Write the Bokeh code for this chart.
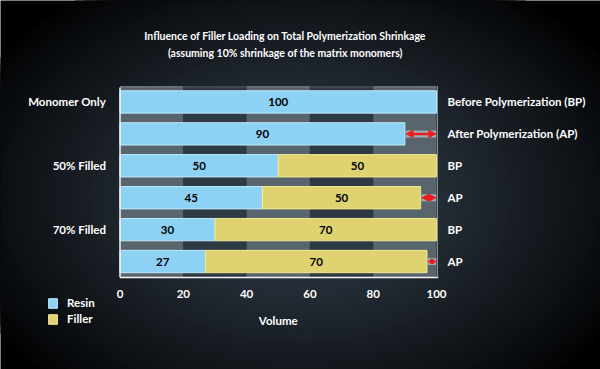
import numpy as np
from bokeh.plotting import figure
from bokeh.models import Range1d, ColumnDataSource, Legend, LegendItem, Arrow, NormalHead
from bokeh.core.properties import value
from bokeh.embed import file_html
from bokeh.resources import INLINE

# ---------------- data ----------------
row_names = ["Monomer BP", "Monomer AP", "50% BP", "50% AP", "70% BP", "70% AP"]
resin = [100, 90, 50, 45, 30, 27]
filler = [0, 0, 50, 50, 70, 70]
left_labels = ["Monomer Only", "", "50% Filled", "", "70% Filled", ""]
right_labels = ["Before Polymerization (BP)", "After Polymerization (AP)", "BP", "AP", "BP", "AP"]
x_ticks = [0, 20, 40, 60, 80, 100]
title_lines = ["Influence of Filler Loading on Total Polymerization Shrinkage",
               "(assuming 10% shrinkage of the matrix monomers)"]
x_label = "Volume"

# ---------------- layout ----------------
W, H = 600, 369
PX0, PX100 = 119.5, 436.0        # pixel of x=0 and x=100
PY_TOP, PY_BOT = 85.5, 277.0      # pixel of top and bottom of the plot area
n = len(resin)
sx = (PX100 - PX0) / 100.0
sy = (PY_BOT - PY_TOP) / n
x_start = -PX0 / sx
x_end = x_start + W / sx
y_end = n + PY_TOP / sy
y_start = -(H - PY_BOT) / sy

def to_data(px, py):
    return x_start + px / sx, y_end - py / sy

FONT_NAME = "Lato"
FONT = value(FONT_NAME)
FS = "11.5px"

p = figure(width=W, height=H, output_backend="svg", toolbar_location=None,
           x_range=Range1d(x_start, x_end), y_range=Range1d(y_start, y_end),
           x_axis_type=None, y_axis_type=None, min_border=0)
p.grid.visible = False
p.outline_line_color = None
p.background_fill_color = "#000000"
p.border_fill_color = "#000000"

# ---------------- radial background ----------------
cxd, cyd = to_data(300, 195)
N = 60
ts = np.linspace(1.0, 0.02, N)
c_center = np.array([0x37, 0x43, 0x51])
c_edge = np.array([0x02, 0x03, 0x04])
cols = []
for t in ts:
    f = (1 - t) ** 0.9
    c = (c_edge + (c_center - c_edge) * f).astype(int)
    cols.append("#%02x%02x%02x" % tuple(c))
p.ellipse(x=[cxd] * N, y=[cyd] * N, width=list(2 * 360 * ts), height=list(2 * 250 * ts),
          width_units="screen", height_units="screen", fill_color=cols, line_color=None)

# ---------------- column bands ----------------
band_l = x_ticks[:-1]
band_r = x_ticks[1:]
band_c = ["#58656c" if i % 2 == 0 else "#2d3943" for i in range(len(band_l))]
p.quad(left=band_l, right=band_r, bottom=0, top=n, fill_color=band_c, line_color=None)
p.quad(left=band_l, right=band_r, bottom=[n - 0.06] * len(band_l), top=n,
       fill_color="#ffffff", fill_alpha=0.08, line_color=None)

# ---------------- bars ----------------
ys = [n - 0.5 - i for i in range(n)]
src = ColumnDataSource(dict(y=ys, resin=resin, filler=filler,
                            rmid=[r / 2 for r in resin],
                            fmid=[r + f / 2 for r, f in zip(resin, filler)],
                            rlab=[str(v) for v in resin],
                            flab=[str(v) if v else "" for v in filler],
                            left=left_labels, right=right_labels))
r_resin = p.hbar(y="y", left=0, right="resin", height=0.7, source=src,
                 fill_color="#8dd2f5", line_color="#bfe9fb", line_width=1)
fsrc = ColumnDataSource(dict(y=[ys[i] for i in range(n) if filler[i] > 0],
                             l=[resin[i] for i in range(n) if filler[i] > 0],
                             r=[resin[i] + filler[i] for i in range(n) if filler[i] > 0]))
r_filler = p.hbar(y="y", left="l", right="r", height=0.7, source=fsrc,
                  fill_color="#dfd271", line_color="#f2e894", line_width=1)

# value labels
p.text(x="rmid", y="y", text="rlab", source=src, text_align="center", text_baseline="middle",
       text_font=FONT, text_font_style="bold", text_font_size=FS, text_color="#000000")
p.text(x="fmid", y="y", text="flab", source=src, text_align="center", text_baseline="middle",
       text_font=FONT, text_font_style="bold", text_font_size=FS, text_color="#000000")

# frame lines
p.segment(x0=[0, 0], y0=[0, 0], x1=[0, 100.6], y1=[n - 0.05, 0], line_color="#f2f4f5", line_width=1.5)
p.segment(x0=[100.3], y0=[0], x1=[100.3], y1=[n], line_color="#8a969c", line_width=1)

# shrinkage arrows
for i in range(n):
    tot = resin[i] + filler[i]
    if tot < 100:
        gap_px = (100 - tot) * sx
        hs = max(5.0, min(7.0, gap_px / 2.4))
        lw = 2.5 if gap_px > 12 else 2.0
        p.segment(x0=[tot + 0.3], y0=[ys[i]], x1=[99.9], y1=[ys[i]],
                  line_color="#dff4ff", line_alpha=0.5, line_width=7)
        p.add_layout(Arrow(x_start=tot + 0.4, y_start=ys[i], x_end=99.8, y_end=ys[i],
                           line_color="#ee1c1c", line_width=lw,
                           start=NormalHead(size=hs, fill_color="#ee1c1c", line_color="#ee1c1c"),
                           end=NormalHead(size=hs, fill_color="#ee1c1c", line_color="#ee1c1c")))

# row labels
p.text(x=0, y="y", text="left", source=src, x_offset=-14, text_align="right",
       text_baseline="middle", text_font=FONT, text_font_style="bold",
       text_font_size=FS, text_color="#ffffff")
p.text(x=100, y="y", text="right", source=src, x_offset=11, text_align="left",
       text_baseline="middle", text_font=FONT, text_font_style="bold",
       text_font_size=FS, text_color="#ffffff")

# tick labels
p.text(x=x_ticks, y=[0] * len(x_ticks), text=[str(t) for t in x_ticks], y_offset=16,
       text_align="center", text_baseline="middle", text_font=FONT, text_font_style="bold",
       text_font_size=FS, text_color="#ffffff")
p.text(x=[50], y=[0], text=[x_label], y_offset=43, text_align="center", text_baseline="middle",
       text_font=FONT, text_font_style="bold", text_font_size=FS, text_color="#ffffff")

# title
p.text(x=[50, 50], y=[n, n], text=title_lines, x_offset=7, y_offset=[-50, -33],
       text_align="center", text_baseline="middle", text_font=FONT, text_font_style="bold",
       text_font_size="10.5px", text_color="#ffffff")

# legend
legend = Legend(items=[LegendItem(label="Resin", renderers=[r_resin]),
                       LegendItem(label="Filler", renderers=[r_filler])],
                location=(47, 44), orientation="vertical",
                glyph_width=11, glyph_height=12, spacing=3, padding=0, margin=0,
                label_standoff=9, label_text_color="#ffffff", label_text_font=FONT_NAME,
                label_text_font_style="bold", label_text_font_size=FS,
                label_height=12, background_fill_alpha=0, border_line_color=None)
p.add_layout(legend)

open("out.html", "w").write(file_html(p, INLINE))
